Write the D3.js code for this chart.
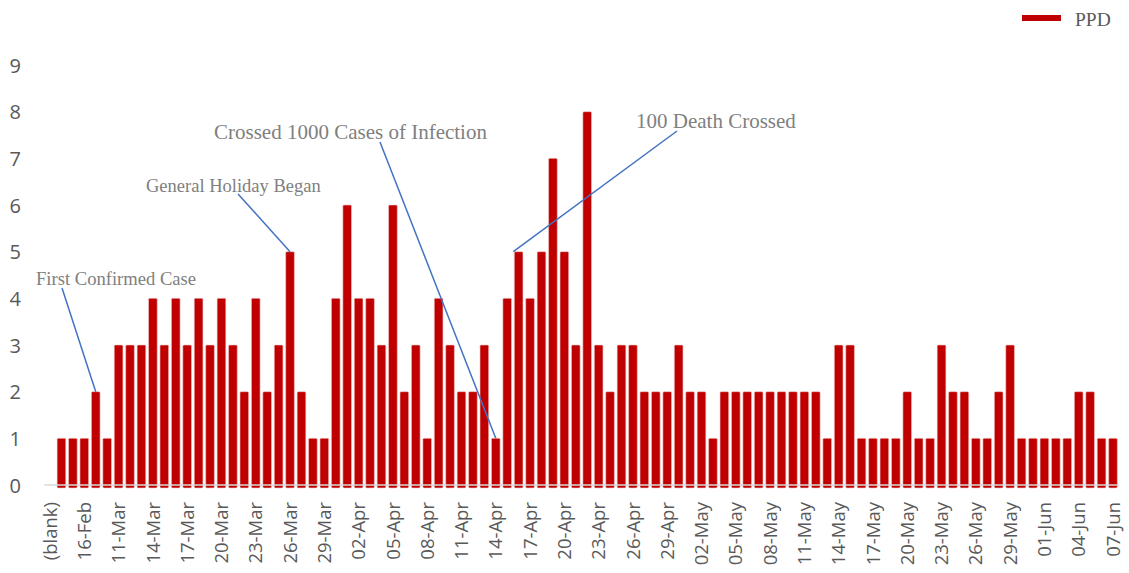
<!DOCTYPE html>
<html>
<head>
<meta charset="utf-8">
<script src="https://cdn.jsdelivr.net/npm/d3@7"></script>
<style>
  html, body { margin: 0; padding: 0; background: #fff; }
  svg { display: block; }
</style>
</head>
<body>
<svg id="chart" width="1129" height="573"></svg>
<script>
// ---- DATA ----
const earlyDates = ["(blank)", "13-Feb", "15-Feb", "16-Feb", "08-Mar", "10-Mar"];
const seriesName = "PPD";
const ppdValues = [
  null,
  1,1,1,2,1,3,3,3,4,3,
  4,3,4,3,4,3,2,4,2,3,
  5,2,1,1,4,6,4,4,3,6,
  2,3,1,4,3,2,2,3,1,4,
  5,4,5,7,5,3,8,3,2,3,
  3,2,2,2,3,2,2,1,2,2,
  2,2,2,2,2,2,2,1,3,3,
  1,1,1,1,2,1,1,3,2,2,
  1,1,2,3,1,1,1,1,1,2,
  2,1,1
];
const yTicks = [0,1,2,3,4,5,6,7,8,9];
const annotations = [
  { text: "First Confirmed Case", cat: "08-Mar", size: 18.6 },
  { text: "General Holiday Began", cat: "26-Mar", size: 18.5 },
  { text: "Crossed 1000 Cases of Infection", cat: "14-Apr", size: 21 },
  { text: "100 Death Crossed", cat: "16-Apr", size: 21 }
];

// build daily dates from 11-Mar to 07-Jun (31-Mar not reported)
const months = ["Jan","Feb","Mar","Apr","May","Jun"];
const dailyDates = [];
{
  const start = new Date(2020, 2, 11), end = new Date(2020, 5, 7);
  for (let d = new Date(start); d <= end; d.setDate(d.getDate() + 1)) {
    const lab = String(d.getDate()).padStart(2, "0") + "-" + months[d.getMonth()];
    if (lab !== "31-Mar") dailyDates.push(lab);
  }
}
const categories = earlyDates.concat(dailyDates);
const data = categories.map((c, i) => ({ cat: c, v: ppdValues[i] }));

// ---- LAYOUT ----
const svg = d3.select("#chart");
const x = d3.scaleBand().domain(categories).range([44.3, 1118.7]).paddingInner(0.24).paddingOuter(0.12);
const y = d3.scaleLinear().domain([0, 9]).range([485, 65]);

// bars
svg.append("g").selectAll("rect").data(data.filter(d => d.v != null)).join("rect")
  .attr("x", d => x(d.cat))
  .attr("width", x.bandwidth())
  .attr("y", d => y(d.v))
  .attr("height", d => y(0) - y(d.v) + 3)
  .attr("rx", 1.2)
  .attr("fill", "#c00000")
  .attr("stroke", "#f0c8c8")
  .attr("stroke-width", 0.6);

// x-axis
const xAxis = d3.axisBottom(x)
  .tickValues(categories.filter((c, i) => i % 3 === 0))
  .tickSize(0).tickPadding(0);
const gx = svg.append("g").attr("transform", `translate(0,${y(0)})`).call(xAxis);
gx.select(".domain").attr("stroke", "#d9d9d9").attr("stroke-width", 1.6).attr("d", "M44.3,0H1118.7");
gx.selectAll("text")
  .attr("transform", "rotate(-90)")
  .attr("x", -17).attr("y", 0).attr("dy", "0.36em")
  .attr("text-anchor", "end")
  .attr("fill", "#595959")
  .style("font-family", "'Open Sans', sans-serif")
  .style("font-size", "18.5px");

// y-axis labels
const yAxis = d3.axisLeft(y).tickValues(yTicks).tickSize(0).tickPadding(0);
const gy = svg.append("g").attr("transform", "translate(21,0)").call(yAxis);
gy.select(".domain").remove();
gy.selectAll("text")
  .attr("fill", "#595959")
  .attr("dy", "0.36em")
  .style("font-family", "'Open Sans', sans-serif")
  .style("font-size", "20px");

// annotations
const annoPos = [
  { tx: 36, ty: 285, lx: 62, ly: 288 },
  { tx: 146, ty: 192, lx: 238, ly: 194 },
  { tx: 214, ty: 139, lx: 380, ly: 142 },
  { tx: 636, ty: 128, lx: 677, ly: 131 }
];
const ga = svg.append("g");
annotations.forEach((a, i) => {
  const p = annoPos[i];
  const d = data.find(e => e.cat === a.cat);
  let ex, ey;
  if (i === 3) { // points to top-left corner of the bar
    ex = x(d.cat) - 1; ey = y(d.v);
  } else {
    ex = x(d.cat) + x.bandwidth() / 2; ey = y(d.v);
  }
  ga.append("line")
    .attr("x1", p.lx).attr("y1", p.ly).attr("x2", ex).attr("y2", ey)
    .attr("stroke", "#4472c4").attr("stroke-width", 1.5);
  ga.append("text")
    .attr("x", p.tx).attr("y", p.ty)
    .attr("fill", "#808080")
    .style("font-family", "'Liberation Serif', 'Times New Roman', serif")
    .style("font-size", a.size + "px")
    .text(a.text);
});

// legend
const gl = svg.append("g");
gl.append("rect").attr("x", 1022).attr("y", 15).attr("width", 39).attr("height", 6).attr("fill", "#c00000");
gl.append("text").attr("x", 1075).attr("y", 26)
  .attr("fill", "#595959")
  .style("font-family", "'Liberation Serif', 'Times New Roman', serif")
  .style("font-size", "19.5px")
  .text(seriesName);
</script>
</body>
</html>
